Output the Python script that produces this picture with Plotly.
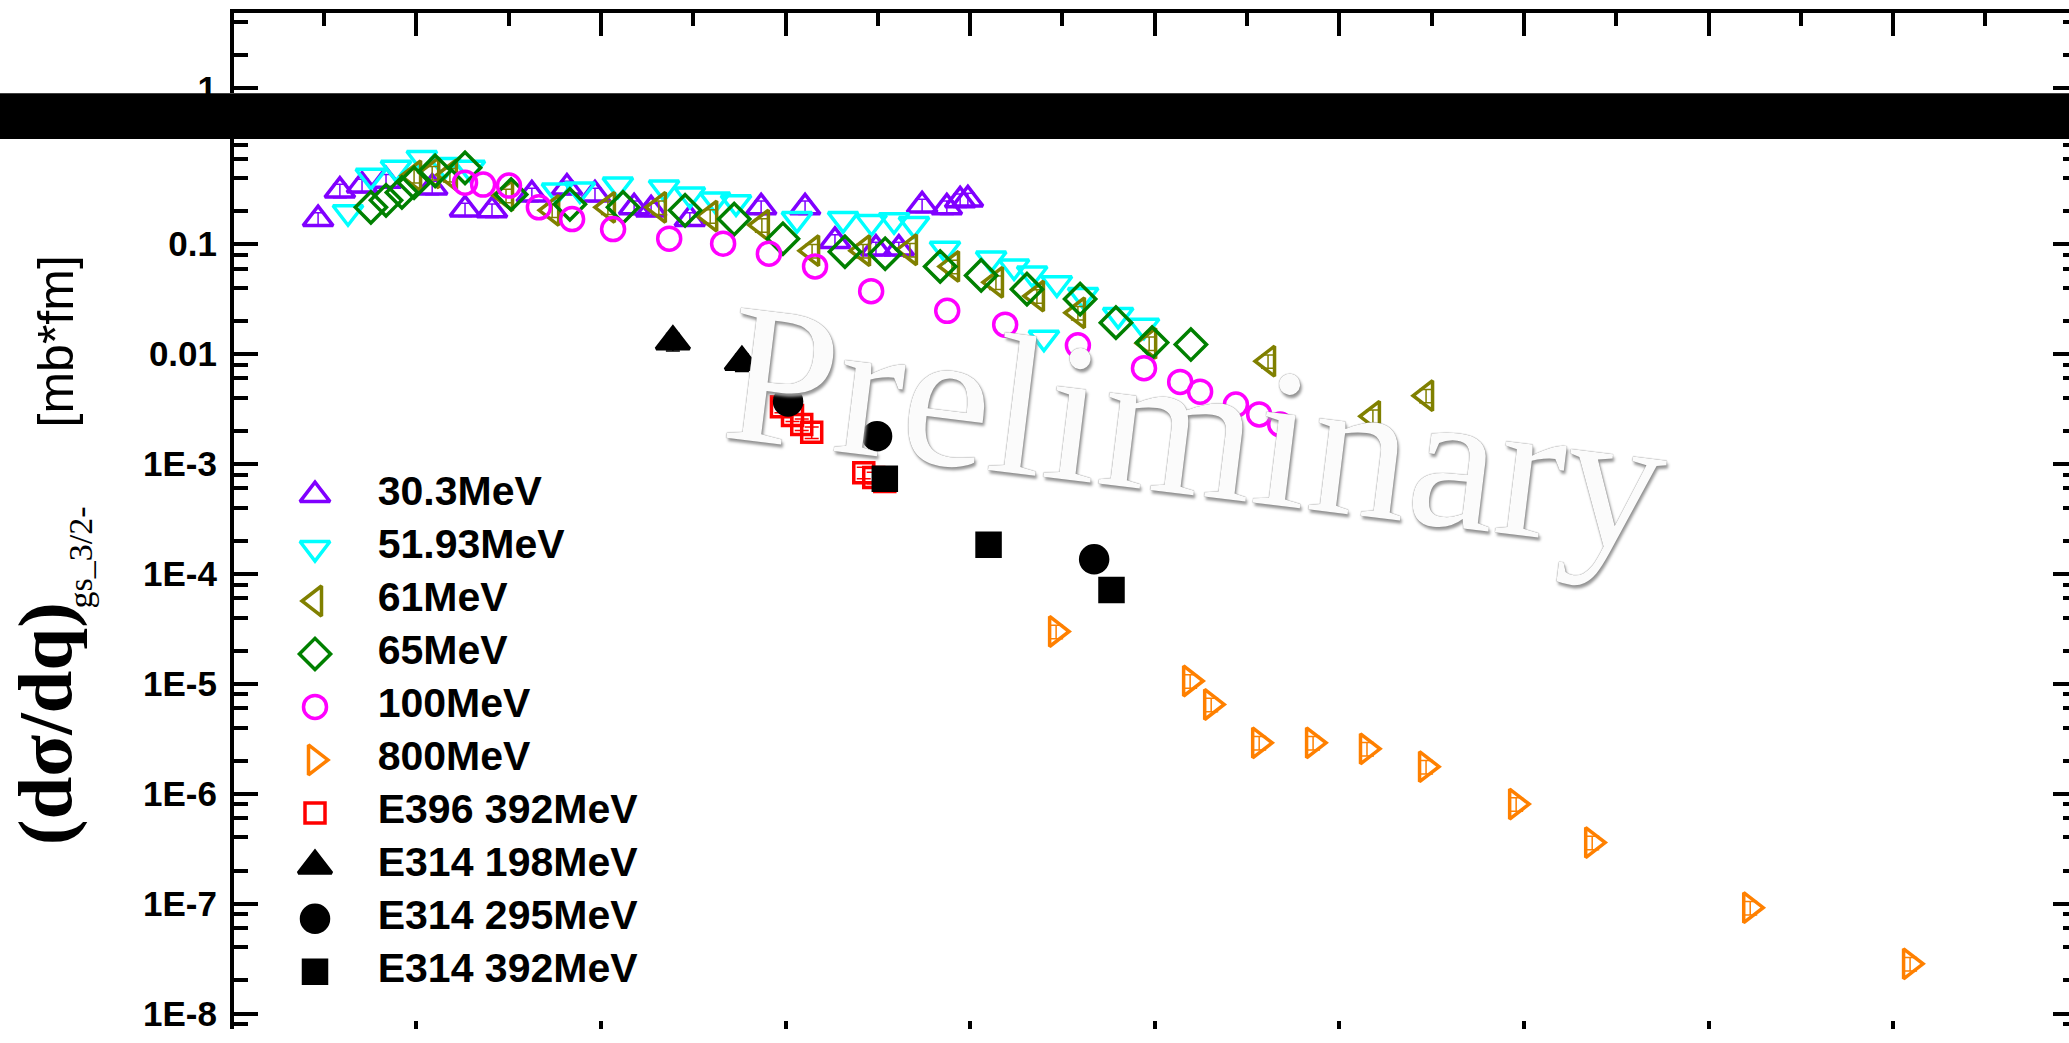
import plotly.graph_objects as go

# ---------------- data: q [fm^-1]  vs  (dσ/dq) [mb*fm] ----------------
q_303 = [0.234, 0.293, 0.353, 0.418, 0.543, 0.632, 0.705, 0.813, 0.908, 0.984, 1.090,
         1.136, 1.241, 1.434, 1.553, 1.634, 1.745, 1.807, 1.870, 1.937, 1.973, 1.994]
y_303 = [0.169, 0.307, 0.341, 0.378, 0.327, 0.207, 0.203, 0.283, 0.327, 0.283, 0.216,
         0.207, 0.169, 0.216, 0.216, 0.107, 0.091, 0.091, 0.225, 0.216, 0.250, 0.255]

q_5193 = [0.315, 0.377, 0.445, 0.515, 0.578, 0.645, 0.881, 0.943, 1.046, 1.171, 1.241,
          1.309, 1.366, 1.531, 1.656, 1.733, 1.794, 1.848, 1.932, 2.057, 2.119, 2.168,
          2.200, 2.235, 2.306, 2.401, 2.471]
y_5193 = [0.195, 0.418, 0.494, 0.607, 0.525, 0.494, 0.307, 0.314, 0.348, 0.327, 0.283,
          0.255, 0.240, 0.169, 0.169, 0.159, 0.165, 0.152, 0.0907, 0.0738, 0.0626, 0.0541,
          0.0141, 0.0440, 0.0344, 0.0227, 0.0181]

q_61 = [0.494, 0.543, 0.591, 0.743, 0.868, 1.019, 1.157, 1.296, 1.436, 1.572, 1.710,
        1.837, 1.951, 2.070, 2.181, 2.292, 2.485, 2.807, 3.091, 3.235]
y_61 = [0.418, 0.445, 0.427, 0.277, 0.203, 0.216, 0.216, 0.180, 0.149, 0.0871, 0.0871,
        0.0889, 0.0626, 0.0449, 0.0337, 0.0237, 0.0125, 0.00861, 0.00271, 0.00418]

q_65 = [0.377, 0.418, 0.461, 0.494, 0.551, 0.632, 0.757, 0.916, 1.060, 1.228, 1.361,
        1.493, 1.661, 1.770, 1.919, 2.030, 2.154, 2.298, 2.395, 2.493, 2.598]
y_65 = [0.216, 0.250, 0.295, 0.362, 0.464, 0.494, 0.283, 0.230, 0.216, 0.203, 0.169,
        0.112, 0.0853, 0.0818, 0.0626, 0.0519, 0.0389, 0.0316, 0.0193, 0.0127, 0.0122]

q_100 = [0.632, 0.681, 0.751, 0.832, 0.922, 1.033, 1.185, 1.331, 1.455, 1.580, 1.732,
         1.938, 2.095, 2.292, 2.471, 2.569, 2.623, 2.720, 2.783, 2.840]
y_100 = [0.362, 0.348, 0.341, 0.216, 0.169, 0.137, 0.112, 0.101, 0.0818, 0.0626, 0.0373,
         0.0247, 0.0185, 0.0120, 0.00744, 0.00557, 0.00454, 0.00347, 0.00282, 0.00229]

q_800 = [2.233, 2.596, 2.653, 2.783, 2.929, 3.075, 3.235, 3.479, 3.685, 4.113, 4.546]
y_800 = [2.99e-5, 1.06e-5, 6.48e-6, 2.90e-6, 2.90e-6, 2.56e-6, 1.76e-6, 8.04e-7,
         3.59e-7, 9.18e-8, 2.83e-8]

q_e396 = [1.489, 1.519, 1.544, 1.571, 1.712, 1.739, 1.769]
y_e396 = [3.32e-3, 2.76e-3, 2.29e-3, 1.94e-3, 8.33e-4, 7.51e-4, 6.91e-4]

q_e314_198 = [1.195, 1.382]
y_e314_198 = [0.0130, 0.00845]

q_e314_295 = [1.507, 1.748, 2.336]
y_e314_295 = [3.70e-3, 1.79e-3, 1.36e-4]

q_e314_392 = [1.769, 2.050, 2.383]
y_e314_392 = [7.35e-4, 1.84e-4, 7.12e-5]

series_names = ["30.3MeV", "51.93MeV", "61MeV", "65MeV", "100MeV", "800MeV",
                "E396 392MeV", "E314 198MeV", "E314 295MeV", "E314 392MeV"]

y_major_vals = [1e-1, 1e-2, 1e-3, 1e-4, 1e-5, 1e-6, 1e-7, 1e-8]
y_major_text = ["0.1", "0.01", "1E-3", "1E-4", "1E-5", "1E-6", "1E-7", "1E-8"]

# ---------------- page geometry ----------------
W, H = 2069, 1043
ML, MT = 234, 13                 # left / top of the plotting area
Q0_PX, PX_PER_Q = 231.7, 369.2   # x mapping
PX_PER_DEC = 111.43              # pixels per decade on both log axes
LOW_ONE_PX = 135.87              # where y = 1 sits on the lower (data) axis
UP_ONE_PX = 89.3                 # where y = 1 sits on the upper axis
BAR_TOP, BAR_BOT = 94.3, 140.7   # black break band
PH = H - MT


def fy(py):
    return (H - py) / PH


def fx(px):
    return (px - ML) / (W - ML)


x_range = [(ML - Q0_PX) / PX_PER_Q, (W - Q0_PX) / PX_PER_Q]
low_range = [(LOW_ONE_PX - H) / PX_PER_DEC, (LOW_ONE_PX - BAR_BOT) / PX_PER_DEC]
up_range = [(UP_ONE_PX - BAR_TOP) / PX_PER_DEC, (UP_ONE_PX - MT) / PX_PER_DEC]

minor_low = [m * 10.0 ** e for e in range(-9, 0) for m in (2, 4, 6, 8)]
minor_up = [2, 4]

styles = [
    dict(q=q_303, y=y_303, symbol="triangle-up-open", color="#8000ff", size=26, err=14),
    dict(q=q_5193, y=y_5193, symbol="triangle-down-open", color="#00ffff", size=26, err=None),
    dict(q=q_61, y=y_61, symbol="triangle-left-open", color="#808000", size=26, err=14),
    dict(q=q_65, y=y_65, symbol="diamond-open", color="#008000", size=24, err=None),
    dict(q=q_100, y=y_100, symbol="circle-open", color="#ff00ff", size=23, err=None),
    dict(q=q_800, y=y_800, symbol="triangle-right-open", color="#ff8000", size=26, err=14),
    dict(q=q_e396, y=y_e396, symbol="square-open", color="#ff0000", size=20, err=12),
    dict(q=q_e314_198, y=y_e314_198, symbol="triangle-up", color="#000000", size=29, err=18),
    dict(q=q_e314_295, y=y_e314_295, symbol="circle", color="#000000", size=27, err=None),
    dict(q=q_e314_392, y=y_e314_392, symbol="square", color="#000000", size=23, err=None),
]

fig = go.Figure()

for name, s in zip(series_names, styles):
    err = None
    if s["err"]:
        err = dict(type="percent", value=s["err"], color=s["color"], thickness=1.5, width=7)
    fig.add_trace(go.Scatter(
        x=s["q"], y=s["y"], mode="markers", name=name, showlegend=False,
        marker=dict(symbol=s["symbol"], size=s["size"], color=s["color"],
                    line=dict(color=s["color"], width=3.5)),
        error_y=err, xaxis="x", yaxis="y"))

# empty traces so the upper panel and the right-hand tick axes are built
for xa, ya in (("x2", "y2"), ("x", "y3"), ("x2", "y4")):
    fig.add_trace(go.Scatter(x=[None], y=[None], xaxis=xa, yaxis=ya,
                             showlegend=False, hoverinfo="skip"))

# in-plot legend: one symbol per row plus its label
rows = list(range(len(series_names)))
for i, s in enumerate(styles):
    fig.add_trace(go.Scatter(
        x=[0], y=[i], mode="markers", showlegend=False, hoverinfo="skip",
        cliponaxis=False,
        marker=dict(symbol=s["symbol"], size=s["size"], color=s["color"],
                    line=dict(color=s["color"], width=3.5)),
        xaxis="x3", yaxis="y5"))
fig.add_trace(go.Scatter(
    x=[1] * len(series_names), y=rows, text=series_names, mode="text",
    textposition="middle right", showlegend=False, hoverinfo="skip",
    cliponaxis=False,
    textfont=dict(family="Liberation Sans", size=41, color="black", weight="bold"),
    xaxis="x3", yaxis="y5"))

ROW0_PX, ROW_STEP = 501.7, 53.7
leg_top = ROW0_PX - ROW_STEP / 2
leg_bot = ROW0_PX + ROW_STEP * (len(series_names) - 0.5)

tickfont = dict(family="Liberation Sans", size=35, color="black", weight="bold")
common_y = dict(type="log", showgrid=False, zeroline=False, ticks="inside",
                tickwidth=4, tickcolor="black")

fig.update_layout(
    width=W, height=H,
    margin=dict(l=ML, r=0, t=MT, b=0, pad=0),
    paper_bgcolor="white", plot_bgcolor="white",
    showlegend=False,
    xaxis=dict(domain=[0, 1], anchor="y", range=x_range, showline=False,
               showgrid=False, zeroline=False, showticklabels=False,
               ticks="inside", ticklen=8, tickwidth=4, tickcolor="black",
               tick0=0, dtick=0.5),
    xaxis2=dict(domain=[0, 1], anchor="y2", side="top", range=x_range,
                showline=True, linewidth=4, linecolor="black",
                showgrid=False, zeroline=False, showticklabels=False,
                ticks="inside", ticklen=23, tickwidth=4, tickcolor="black",
                tick0=0, dtick=0.5,
                minor=dict(ticks="inside", ticklen=13, tickwidth=4, tickcolor="black",
                           tick0=0, dtick=0.25)),
    yaxis=dict(**common_y, domain=[0, fy(BAR_BOT)], anchor="x", range=low_range,
               showline=True, linewidth=4, linecolor="black", ticklen=24,
               tickmode="array", tickvals=y_major_vals, ticktext=y_major_text,
               tickfont=tickfont, ticklabelstandoff=6,
               minor=dict(ticks="inside", ticklen=14, tickwidth=4, tickcolor="black",
                          tickvals=minor_low)),
    yaxis2=dict(**common_y, domain=[fy(BAR_TOP), 1], anchor="x2", range=up_range,
                showline=True, linewidth=4, linecolor="black", ticklen=24,
                tickmode="array", tickvals=[1], ticktext=["1"],
                tickfont=tickfont, ticklabelstandoff=6,
                minor=dict(ticks="inside", ticklen=14, tickwidth=4, tickcolor="black",
                           tickvals=minor_up)),
    yaxis3=dict(**common_y, overlaying="y", side="right", anchor="x", range=low_range,
                showline=False, showticklabels=False, ticklen=16,
                tickmode="array", tickvals=y_major_vals,
                minor=dict(ticks="inside", ticklen=6, tickwidth=4, tickcolor="black",
                           tickvals=minor_low)),
    yaxis4=dict(**common_y, overlaying="y2", side="right", anchor="x2", range=up_range,
                showline=False, showticklabels=False, ticklen=16,
                tickmode="array", tickvals=[1],
                minor=dict(ticks="inside", ticklen=6, tickwidth=4, tickcolor="black",
                           tickvals=minor_up)),
    xaxis3=dict(domain=[fx(315), fx(377.7)], anchor="y5", range=[0, 1], visible=False),
    yaxis5=dict(domain=[fy(leg_bot), fy(leg_top)], anchor="x3",
                range=[len(series_names) - 0.5, -0.5], visible=False),
)

# black break band across the whole width
fig.add_shape(type="rect", xref="paper", yref="paper",
              x0=-0.2, x1=1.05, y0=fy(BAR_BOT), y1=fy(BAR_TOP),
              fillcolor="black", line=dict(width=0), layer="above")

# watermark
fig.add_annotation(
    text="Preliminary", xref="paper", yref="paper",
    x=fx(1196), y=fy(433), xanchor="center", yanchor="middle",
    textangle=7, showarrow=False,
    font=dict(family="Liberation Serif", size=200, color="#fbfbfb",
              shadow="0px 0px 1px #555, 2px 3px 3px #999"))

# y-axis title pieces
fig.add_annotation(
    text="<b>(dσ/dq)</b>", xref="paper", yref="paper",
    x=fx(45), y=fy(734), xanchor="center", yanchor="middle", textangle=-90,
    showarrow=False, font=dict(family="Liberation Serif", size=77, color="black"))
fig.add_annotation(
    text="gs_3/2-", xref="paper", yref="paper",
    x=fx(80), y=fy(565), xanchor="center", yanchor="middle", textangle=-90,
    showarrow=False, font=dict(family="Liberation Serif", size=34, color="black"))
fig.add_annotation(
    text="[mb*fm]", xref="paper", yref="paper",
    x=fx(56), y=fy(346), xanchor="center", yanchor="middle", textangle=-90,
    showarrow=False, font=dict(family="Liberation Sans", size=50, color="black"))

fig.write_html("out.html", config={"displayModeBar": False})
